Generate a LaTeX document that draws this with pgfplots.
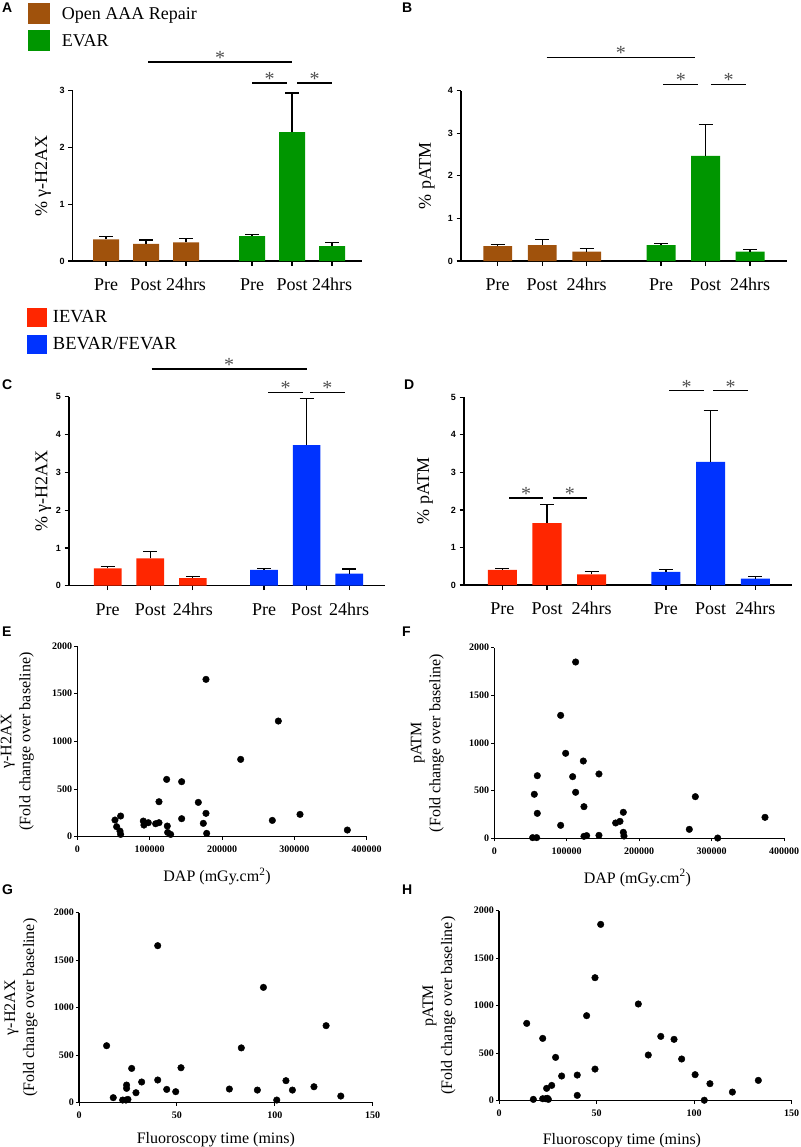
\documentclass[border=0pt]{standalone}
\usepackage{fontspec}
\setmainfont{Liberation Serif}
\newfontfamily\arialfont{Liberation Sans}
\usepackage{pgfplots}
\pgfplotsset{compat=1.18}
\definecolor{brownc}{RGB}{160,82,12}
\definecolor{greenc}{RGB}{0,150,0}
\definecolor{redc}{RGB}{255,38,0}
\definecolor{bluec}{RGB}{0,51,255}
\definecolor{stargray}{RGB}{80,80,80}

\newcommand{\sig}[4]{%
  \draw[line width=1.6pt] (axis cs:#1,#4) -- (axis cs:#2,#4);
  \node[font=\fontsize{20}{20}\selectfont, text=stargray, inner sep=0pt, anchor=base, yshift=-2.5pt] at (axis cs:#3,#4) {*};
}

\pgfplotsset{
  barpanel/.style={
    scale only axis, anchor=south west, clip=false,
    axis x line*=bottom, axis y line*=left,
    axis line style={-, line width=1.2pt},
    tick style={black, line width=1.2pt},
    tick align=outside, major tick length=4.5pt,
    ymin=0,
    xticklabels={Pre,Post,24hrs,Pre,Post,24hrs},
    xticklabel style={font=\fontsize{18}{18}\selectfont, anchor=base, inner sep=0pt, yshift=-25pt},
    yticklabel style={font=\arialfont\bfseries\fontsize{9}{9}\selectfont},
    /pgf/number format/assume math mode=true,
    ylabel style={font=\fontsize{18}{20}\selectfont, anchor=center},
    legend image code/.code={\fill[##1] (0pt,-10pt) rectangle (22pt,11pt);},
    legend style={draw=none, fill=none, inner sep=0pt, outer sep=0pt, row sep=6.5pt,
      font=\fontsize{18}{18}\selectfont, nodes={inner sep=0pt}, column sep=12pt,
      anchor=north west},
    legend cell align=left,
  },
  barbase/.style={ybar, bar width=0.65, bar shift=0pt, draw=none,
    error bars/y dir=plus, error bars/y explicit,
    error bars/error bar style={line width=1.2pt, black},
    error bars/error mark options={rotate=90, black, line width=1.2pt, mark size=7pt}},
  scatpanel/.style={
    scale only axis, anchor=south west, clip=false,
    axis x line*=bottom, axis y line*=left,
    axis line style={-, line width=1.2pt},
    tick style={black, line width=1pt},
    tick align=outside, major tick length=3pt,
    xmin=0, ymin=0, ymax=2000, ytick={0,500,1000,1500,2000},
    scaled x ticks=false, scaled y ticks=false,
    /pgf/number format/fixed, /pgf/number format/precision=0,
    /pgf/number format/set thousands separator={},
    /pgf/number format/assume math mode=true,
    ticklabel style={font=\bfseries\fontsize{10}{10}\selectfont},
    yticklabel style={inner sep=2pt},
    xticklabel style={yshift=-3pt},
    ylabel style={font=\fontsize{16}{19}\selectfont, align=center, anchor=center},
    xlabel style={font=\fontsize{16}{16}\selectfont, anchor=base},
  },
  scatplot/.style={only marks, mark=*, mark size=3.3pt, black},
}

\begin{document}
\begin{tikzpicture}
\path[use as bounding box] (0,0) rectangle (800pt,-1147pt);

% Panel letters
\node[font=\arialfont\bfseries\fontsize{14}{14}\selectfont, anchor=north west, inner sep=0pt] at (2pt,-3pt) {A};
\node[font=\arialfont\bfseries\fontsize{14}{14}\selectfont, anchor=north west, inner sep=0pt] at (402pt,-3pt) {B};
\node[font=\arialfont\bfseries\fontsize{14}{14}\selectfont, anchor=north west, inner sep=0pt] at (2pt,-380pt) {C};
\node[font=\arialfont\bfseries\fontsize{14}{14}\selectfont, anchor=north west, inner sep=0pt] at (404pt,-380pt) {D};
\node[font=\arialfont\bfseries\fontsize{14}{14}\selectfont, anchor=north west, inner sep=0pt] at (2pt,-627pt) {E};
\node[font=\arialfont\bfseries\fontsize{14}{14}\selectfont, anchor=north west, inner sep=0pt] at (402pt,-627pt) {F};
\node[font=\arialfont\bfseries\fontsize{14}{14}\selectfont, anchor=north west, inner sep=0pt] at (2pt,-885pt) {G};
\node[font=\arialfont\bfseries\fontsize{14}{14}\selectfont, anchor=north west, inner sep=0pt] at (402pt,-885pt) {H};

% ---------- A ----------
\begin{axis}[barpanel, at={(72.7pt,-261pt)}, width=289pt, height=170.3pt,
  xmin=-0.8325, xmax=6.3925, ymax=3, ytick={0,1,2,3},
  xtick={0,1,2,3.65,4.65,5.65},
  ylabel={\% γ-H2AX}, ylabel style={at={(axis description cs:-0.1028,0.5)}},
  legend style={at={(axis description cs:-0.1547,1.515)}}]
\addlegendimage{fill=brownc, draw=none}
\addlegendentry{Open AAA Repair}
\addlegendimage{fill=greenc, draw=none}
\addlegendentry{EVAR}
\addplot[barbase, fill=brownc, forget plot] coordinates {(0,0.38) +- (0,0.05) (1,0.30) +- (0,0.07) (2,0.33) +- (0,0.07)};
\addplot[barbase, fill=greenc, forget plot] coordinates {(3.65,0.44) +- (0,0.03) (4.65,2.27) +- (0,0.69) (5.65,0.26) +- (0,0.07)};
\sig{1.05}{4.65}{2.85}{3.505}
\sig{3.65}{4.525}{4.0875}{3.135}
\sig{4.775}{5.65}{5.2125}{3.135}
\end{axis}

% ---------- B ----------
\begin{axis}[barpanel, at={(461pt,-261pt)}, width=325.7pt, height=170.3pt,
  xmin=-0.825, xmax=6.494, ymax=4, ytick={0,1,2,3,4},
  xtick={0,1,2,3.67,4.67,5.67},
  ylabel={\% pATM}, ylabel style={at={(axis description cs:-0.105,0.5)}}]
\addplot[barbase, fill=brownc] coordinates {(0,0.35) +- (0,0.03) (1,0.37) +- (0,0.14) (2,0.22) +- (0,0.07)};
\addplot[barbase, fill=greenc] coordinates {(3.67,0.37) +- (0,0.04) (4.67,2.47) +- (0,0.73) (5.67,0.22) +- (0,0.05)};
\sig{1.10}{4.434}{2.767}{4.78}
\sig{3.72}{4.51}{4.115}{4.15}
\sig{4.79}{5.59}{5.19}{4.15}
\end{axis}

% ---------- C ----------
\begin{axis}[barpanel, at={(69pt,-585.7pt)}, width=316pt, height=189pt,
  xmin=-0.908, xmax=6.51, ymax=5, ytick={0,1,2,3,4,5},
  xtick={0,1,2,3.67,4.67,5.67},
  ylabel={\% γ-H2AX}, ylabel style={at={(axis description cs:-0.0813,0.5)}},
  legend image code/.code={\fill[#1] (0pt,-9.5pt) rectangle (20pt,9.5pt);},
  legend style={at={(axis description cs:-0.133,1.469)}, column sep=6pt, row sep=7.5pt, font=\fontsize{18.5}{18.5}\selectfont}]
\addlegendimage{fill=redc, draw=none}
\addlegendentry{IEVAR}
\addlegendimage{fill=bluec, draw=none}
\addlegendentry{BEVAR/FEVAR}
\addplot[barbase, fill=redc, forget plot] coordinates {(0,0.46) +- (0,0.04) (1,0.72) +- (0,0.18) (2,0.20) +- (0,0.04)};
\addplot[barbase, fill=bluec, forget plot] coordinates {(3.67,0.42) +- (0,0.04) (4.67,3.72) +- (0,1.23) (5.67,0.32) +- (0,0.12)};
\sig{1.033}{4.671}{2.852}{5.733}
\sig{3.77}{4.58}{4.175}{5.116}
\sig{4.75}{5.57}{5.16}{5.116}
\end{axis}

% ---------- D ----------
\begin{axis}[barpanel, at={(464pt,-585pt)}, width=327.7pt, height=187.7pt,
  xmin=-0.857, xmax=6.474, ymax=5, ytick={0,1,2,3,4,5},
  xtick={0,1,2,3.66,4.66,5.66},
  ylabel={\% pATM}, ylabel style={at={(axis description cs:-0.119,0.5)}}]
\addplot[barbase, fill=redc] coordinates {(0,0.40) +- (0,0.05) (1,1.65) +- (0,0.49) (2,0.28) +- (0,0.08)};
\addplot[barbase, fill=bluec] coordinates {(3.66,0.35) +- (0,0.06) (4.66,3.28) +- (0,1.37) (5.66,0.17) +- (0,0.06)};
\sig{0.15}{0.917}{0.5335}{2.31}
\sig{1.128}{1.90}{1.514}{2.31}
\sig{3.736}{4.512}{4.124}{5.177}
\sig{4.72}{5.49}{5.105}{5.177}
\end{axis}

% ---------- E ----------
\begin{axis}[scatpanel, at={(77.3pt,-836.7pt)}, width=289.4pt, height=190.7pt,
  xmax=400000, xtick={0,100000,200000,300000,400000},
  ylabel={γ-H2AX\\(Fold change over baseline)}, ylabel style={at={(axis description cs:-0.207,0.5)}},
  xlabel={DAP (mGy.cm\textsuperscript{2})}, xlabel style={at={(axis description cs:0.483,-0.236)}}]
\addplot[scatplot] coordinates {(52070,175) (54375,105) (59900,217) (59000,59) (59900,24) (91240,164) (92160,122) (98150,147) (108290,136) (112900,147) (112900,367) (123490,601) (124400,112) (124880,45) (129000,24) (144230,577) (144230,189) (167270,360) (174180,140) (177870,245) (177870,1650) (178800,35) (225790,811) (269570,171) (277860,1213) (307820,234) (373250,70)};
\end{axis}

% ---------- F ----------
\begin{axis}[scatpanel, at={(494.3pt,-838.3pt)}, width=289.7pt, height=190.6pt,
  xmax=400000, xtick={0,100000,200000,300000,400000},
  ylabel={pATM\\(Fold change over baseline)}, ylabel style={at={(axis description cs:-0.231,0.5)}},
  xlabel={DAP (mGy.cm\textsuperscript{2})}, xlabel style={at={(axis description cs:0.494,-0.2345)}}]
\addplot[scatplot] coordinates {(52930,7) (55240,462) (58460,7) (59380,657) (59380,262) (91600,1290) (91600,136) (98500,892) (108170,647) (112300,1850) (112300,483) (122900,811) (123800,332) (123800,21) (127500,28) (144500,675) (144500,31) (167550,161) (173530,178) (178140,273) (178140,63) (179060,24) (269280,94) (277560,437) (308400,3) (373770,220)};
\end{axis}

% ---------- G ----------
\begin{axis}[scatpanel, at={(79pt,-1102.7pt)}, width=293.7pt, height=190pt,
  xmax=150, xtick={0,50,100,150},
  ylabel={γ-H2AX\\(Fold change over baseline)}, ylabel style={at={(axis description cs:-0.197,0.5)}},
  xlabel={Fluoroscopy time (mins)}, xlabel style={at={(axis description cs:0.466,-0.217)}}]
\addplot[scatplot] coordinates {(14.1,600) (17.5,53) (22.3,28) (24.0,28) (24.3,186) (24.3,151) (25.0,35) (26.9,361) (29.1,105) (32.0,218) (40.2,1653) (40.2,239) (44.8,140) (49.4,116) (52.1,368) (76.8,144) (82.9,577) (91.1,133) (94.2,1214) (101.0,28) (105.7,232) (109.0,133) (120.0,168) (126.2,811) (133.7,70)};
\end{axis}

% ---------- H ----------
\begin{axis}[scatpanel, at={(499pt,-1100.7pt)}, width=292.7pt, height=190pt,
  xmax=150, xtick={0,50,100,150},
  ylabel={pATM\\(Fold change over baseline)}, ylabel style={at={(axis description cs:-0.205,0.5)}},
  xlabel={Fluoroscopy time (mins)}, xlabel style={at={(axis description cs:0.42,-0.228)}}]
\addplot[scatplot] coordinates {(14.2,814) (17.6,14) (22.4,656) (22.4,21) (23.9,21) (24.4,130) (24.8,25) (25.3,14) (27.0,161) (29.0,456) (32.1,260) (40.1,270) (40.1,56) (44.9,895) (49.2,1295) (49.2,333) (52.1,1856) (71.4,1018) (76.5,481) (82.9,677) (89.7,646) (93.6,439) (100.5,274) (105.2,5) (108.1,179) (119.6,91) (132.9,214)};
\end{axis}
\end{tikzpicture}
\end{document}
